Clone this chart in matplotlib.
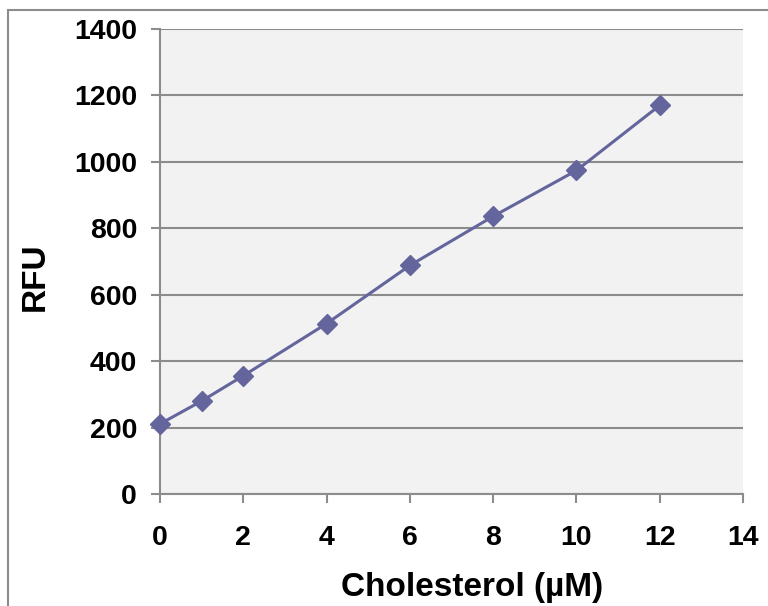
import matplotlib.pyplot as plt
from matplotlib.patches import Rectangle

plt.rcParams['font.family'] = ['Liberation Sans', 'DejaVu Sans']
plt.rcParams['font.weight'] = 'bold'

cholesterol = [0, 1, 2, 4, 6, 8, 10, 12]
rfu = [211, 280, 356, 513, 688, 836, 974, 1170]
x_ticks = [0, 2, 4, 6, 8, 10, 12, 14]
y_ticks = [0, 200, 400, 600, 800, 1000, 1200, 1400]

fig = plt.figure(figsize=(7.68, 6.06), dpi=100)
ax = fig.add_axes([160 / 768, 1 - 494 / 606, 583 / 768, 465 / 606])

# outer chart frame, cut off at right and bottom like the original
fig.patches.append(Rectangle((8 / 768, -0.1), 1.1, 1 - 10 / 606 + 0.1,
                             transform=fig.transFigure, fill=False,
                             edgecolor='#8c8c8c', linewidth=1.5))

ax.set_facecolor('#f2f2f2')
ax.plot(cholesterol, rfu, color='#64659c', linewidth=2.2, marker='D',
        markersize=10, markerfacecolor='#64659c', markeredgecolor='#64659c',
        zorder=3, clip_on=False)

ax.set_xlim(0, 14)
ax.set_ylim(0, 1400)
ax.set_xticks(x_ticks)
ax.set_yticks(y_ticks)
ax.yaxis.grid(True, color='#8c8c8c', linewidth=1.5)
ax.set_axisbelow(True)

for side in ['top', 'right']:
    ax.spines[side].set_visible(False)
for side in ['left', 'bottom']:
    ax.spines[side].set_color('#8c8c8c')
    ax.spines[side].set_linewidth(1.5)

ax.tick_params(axis='both', direction='out', length=6.5, width=1.5, color='#8c8c8c',
               labelsize=20.5)
ax.tick_params(axis='y', pad=10)
ax.tick_params(axis='x', pad=16)
ax.set_xlabel('Cholesterol (µM)', fontsize=24, fontweight='bold', labelpad=15)
ax.set_ylabel('RFU', fontsize=24, fontweight='bold', labelpad=17)
# axis titles sit a bit off-centre in the original
ax.xaxis.label.set_x(0.535)
ax.yaxis.label.set_y(0.467)

fig.savefig('out.png', dpi=100)
